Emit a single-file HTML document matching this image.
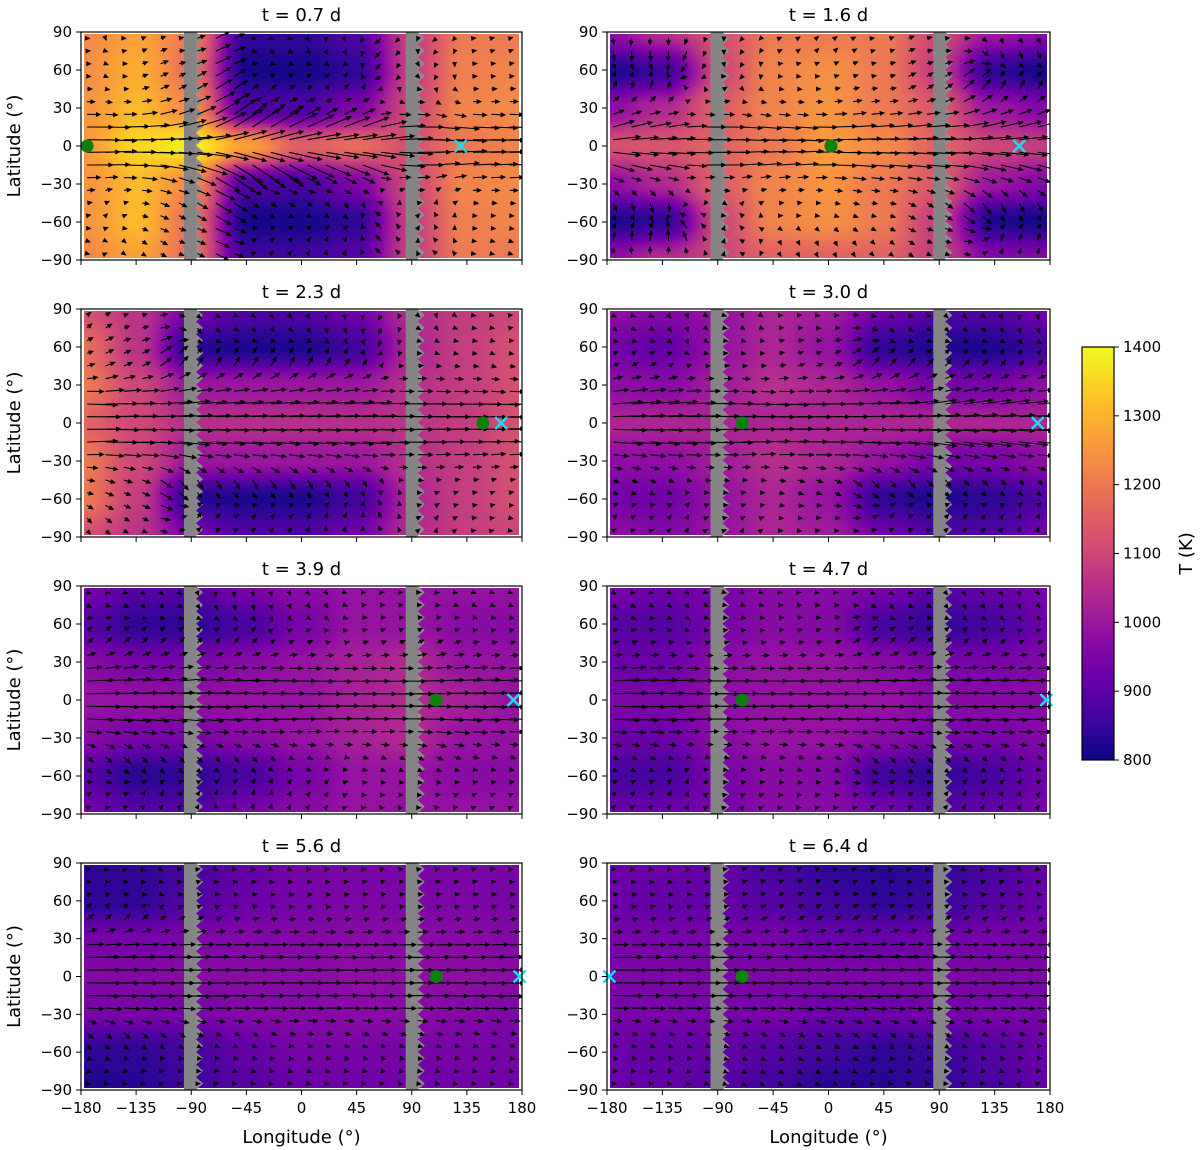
<!DOCTYPE html>
<html><head><meta charset="utf-8">
<style>
body{margin:0;background:#fff;width:1200px;height:1150px;overflow:hidden;font-family:"Liberation Sans","DejaVu Sans",sans-serif;}
#wrap{position:relative;width:1200px;height:1150px;}
canvas{position:absolute;}
svg{position:absolute;left:0;top:0;}
</style></head>
<body>
<div id="wrap">
<svg id="svg" width="1200" height="1150"></svg>
</div>
<script>
// ---- data ----
const titles = ["t = 0.7 d","t = 1.6 d","t = 2.3 d","t = 3.0 d","t = 3.9 d","t = 4.7 d","t = 5.6 d","t = 6.4 d"];
const gridLons = [-180,-135,-90,-45,0,45,90,135,180];
const gridLats = [90,60,30,0,-30,-60,-90];
const temp0 = [[1230,1270,1200,840,840,880,1080,1200,1200],[1240,1290,1180,810,810,840,1080,1210,1220],[1250,1310,1230,880,880,950,1100,1220,1230],[1260,1350,1390,1270,1150,1180,1120,1200,1220],[1250,1310,1230,880,870,950,1100,1220,1230],[1250,1310,1180,810,810,840,1080,1210,1220],[1230,1270,1180,860,860,890,1080,1200,1200]];
const temp1 = [[980,1040,1120,1200,1200,1200,1100,1000,960],[820,860,1100,1220,1240,1200,1080,840,810],[980,1040,1150,1220,1250,1200,1140,1000,960],[1120,1130,1160,1200,1260,1230,1160,1100,1080],[980,1040,1150,1220,1250,1200,1140,1000,960],[820,840,1100,1220,1240,1200,1080,820,810],[980,1040,1100,1160,1160,1160,1080,960,960]];
const temp2 = [[1120,1060,940,880,880,930,1040,1080,1100],[1180,1060,830,820,820,860,1030,1080,1120],[1200,1100,1000,1000,1000,1000,1050,1080,1120],[1160,1100,1050,1050,1050,1050,1060,1080,1120],[1200,1100,1000,1000,1000,1000,1050,1080,1120],[1200,1080,830,820,820,860,1030,1080,1120],[1120,1060,940,880,880,930,1040,1080,1100]];
const temp3 = [[980,960,990,1030,1010,930,880,880,930],[930,910,990,1030,990,840,820,820,860],[980,970,1010,1050,1030,990,940,940,980],[1030,1030,1030,1030,1030,1030,1030,1030,1030],[980,980,1010,1050,1030,990,940,940,980],[930,930,990,1030,990,840,820,840,880],[980,960,990,1030,1010,930,880,880,930]];
const temp4 = [[940,890,890,940,970,990,990,990,990],[890,840,840,870,940,990,990,970,970],[970,940,940,970,990,1020,1040,990,990],[990,990,990,990,990,1020,1040,1020,990],[970,940,940,970,990,1020,1040,990,990],[890,830,840,870,940,990,990,970,970],[940,890,890,940,970,990,990,990,990]];
const temp5 = [[940,920,940,970,970,940,890,910,940],[890,890,940,970,960,870,840,870,920],[920,920,970,990,990,970,940,940,960],[950,950,980,990,990,990,970,970,970],[920,920,970,990,990,970,940,940,960],[870,870,940,970,960,860,840,870,920],[920,920,940,970,970,940,890,910,940]];
const temp6 = [[840,840,870,910,940,940,940,940,940],[840,840,890,920,940,950,950,950,940],[940,940,950,960,960,970,970,970,960],[960,960,970,970,970,980,980,980,970],[940,940,940,960,960,970,970,960,950],[840,840,870,910,940,940,940,940,940],[820,830,860,890,920,930,930,930,930]];
const temp7 = [[920,920,910,870,840,830,840,870,910],[920,910,910,890,860,840,850,890,920],[940,940,940,940,920,920,930,940,940],[950,950,950,950,950,950,950,950,950],[940,940,940,940,920,920,930,940,940],[920,910,910,890,860,840,850,890,920],[920,910,890,860,830,830,840,870,910]];
const temps = [temp0,temp1,temp2,temp3,temp4,temp5,temp6,temp7];
const dotLon = [-175,2,148,-70,110,-70,110,-70];
const crossLon = [130,155,163,170,173,177,178,-178];
const arrowLats = [85,75,65,55,45,35,25,15,5,-5,-15,-25,-35,-45,-55,-65,-75,-85];
const jetU = [0.1,0.15,0.2,0.2,0.3,0.5,0.9,1.8,2.3,2.3,1.8,0.9,0.5,0.3,0.2,0.2,0.15,0.1];
const jetScale = [1.0,0.8,1.1,1.1,1.0,1.0,1.2,1.1];
const xTicks = [-180,-135,-90,-45,0,45,90,135,180];
const yTicks = [90,60,30,0,-30,-60,-90];
const cbTicks = [1400,1300,1200,1100,1000,900,800];

// ---- layout ----
const colX = [[81,522],[607,1050]];
const rowY = [[32,260],[309,537],[586,814],[863,1090]];
const TMIN=800,TMAX=1400;
const plasma=[[13,8,135],[65,4,157],[106,0,168],[143,13,164],[177,42,144],[204,71,120],[225,100,98],[242,132,75],[252,166,54],[252,206,37],[240,249,33]];
function cmap(t){t=Math.max(0,Math.min(1,t))*10;const i=Math.min(9,Math.floor(t)),f=t-i;const a=plasma[i],b=plasma[i+1];return [a[0]+(b[0]-a[0])*f,a[1]+(b[1]-a[1])*f,a[2]+(b[2]-a[2])*f];}
const NS="http://www.w3.org/2000/svg";
const svg=document.getElementById('svg');
const wrap=document.getElementById('wrap');
const defs=document.createElementNS(NS,'defs');svg.appendChild(defs);
function mk(tag,attrs,parent){const e=document.createElementNS(NS,tag);for(const k in attrs)e.setAttribute(k,attrs[k]);(parent||svg).appendChild(e);return e;}
function txt(x,y,s,size,anchor,parent,extra){const t=mk('text',Object.assign({x:x,y:y,'font-size':size,'text-anchor':anchor||'middle',fill:'#000','font-family':'DejaVu Sans, Liberation Sans, sans-serif'},extra||{}),parent);t.textContent=s;return t;}
function sample(g,lon,lat){
  let fx=(lon+180)/45, fy=(90-lat)/30;
  fx=Math.max(0,Math.min(8,fx));fy=Math.max(0,Math.min(6,fy));
  let i=Math.min(7,Math.floor(fx)), j=Math.min(5,Math.floor(fy));
  let u=fx-i, v=fy-j; u=u*u*(3-2*u); v=v*v*(3-2*v);
  return g[j][i]*(1-u)*(1-v)+g[j][i+1]*u*(1-v)+g[j+1][i]*(1-u)*v+g[j+1][i+1]*u*v;
}
for(let p=0;p<8;p++){
  const c=p%2,r=Math.floor(p/2);
  const [x0,x1]=colX[c],[y0,y1]=rowY[r];
  const W=x1-x0,H=y1-y0;
  const X=lon=>x0+(lon+180)/360*W, Y=lat=>y0+(90-lat)/180*H;
  const cp=mk('clipPath',{id:'clip'+p},defs);mk('rect',{x:x0,y:y0,width:W,height:H},cp);
  const g=mk('g',{},svg);
  
  
  const cv=document.createElement('canvas');
  cv.width=W-6;cv.height=H-4;cv.style.left=(x0+3)+'px';cv.style.top=(y0+2)+'px';
  
  
  wrap.insertBefore(cv,svg);
  const ctx=cv.getContext('2d');const im=ctx.createImageData(cv.width,cv.height);
  for(let yy=0;yy<cv.height;yy++)for(let xx=0;xx<cv.width;xx++){
    const lon=-180+(xx+0.5)/cv.width*360, lat=90-(yy+0.5)/cv.height*180;
    const col=cmap((sample(temps[p],lon,lat)-TMIN)/(TMAX-TMIN));
    const k=(yy*cv.width+xx)*4;im.data[k]=col[0];im.data[k+1]=col[1];im.data[k+2]=col[2];im.data[k+3]=255;
  }
  ctx.putImageData(im,0,0);
  const inner=mk('g',{'clip-path':`url(#clip${p})`},g);
  [-91,90].forEach(bl=>{
    const bx=X(bl)-6;
    const band=mk('rect',{x:bx,y:y0,width:12,height:H,fill:'#858585'},inner);
    
    
    for(let ty=y0;ty<y1-4;ty+=12.6){mk('polygon',{points:`${bx+12},${ty} ${bx+19},${ty+6.3} ${bx+12},${ty+12.6}`,fill:'#8c8c8c'},inner);}
  });
  const ag=mk('g',{stroke:'#000','stroke-width':1.1,fill:'#000'},inner);
  
  
  for(let li=0;li<arrowLats.length;li++){
    for(let lon=-175;lon<180;lon+=15){
      const lat=arrowLats[li];
      const tE=sample(temps[p],lon+10,lat)-sample(temps[p],lon-10,lat);
      const tN=sample(temps[p],lon,lat+10)-sample(temps[p],lon,lat-10);
      let u=jetU[li]*jetScale[p]*14 - tE*0.05;
      let v=-tN*0.05 + (lat>0?-1:1)*tE*0.03;
      const len=Math.hypot(u,v); if(len>32){u*=32/len;v*=32/len;}
      const ax=X(lon),ay=Y(lat);
      const bx=ax+u,by=ay-v;
      mk('line',{x1:ax,y1:ay,x2:bx,y2:by},ag);
      const L=Math.hypot(u,v)||1,ux=u/L,uy=-v/L;
      mk('polygon',{points:`${bx+ux*2.5},${by+uy*2.5} ${bx-ux*3+uy*2.5},${by-uy*3-ux*2.5} ${bx-ux*3-uy*2.5},${by-uy*3+ux*2.5}`,stroke:'none'},ag);
    }
  }
  const dot=mk('circle',{cx:X(dotLon[p]),cy:Y(0),r:6.5,fill:'#0b800b'},g);
  
  
  const cx=X(crossLon[p]),cy=Y(0);
  const cr=mk('path',{d:`M${cx-6},${cy-6}L${cx+6},${cy+6}M${cx-6},${cy+6}L${cx+6},${cy-6}`,stroke:'#22d8ee','stroke-width':2.5},g);
  
  
  mk('rect',{x:x0,y:y0,width:W,height:H,fill:'none',stroke:'#000','stroke-width':1.2},g);
  xTicks.forEach(t=>{mk('line',{x1:X(t),x2:X(t),y1:y1,y2:y1+5,stroke:'#000','stroke-width':1},g);
    if(r===3){const l=txt(X(t),y1+23,String(t).replace('-','\u2212'),15,'middle',g);}});
  yTicks.forEach(t=>{mk('line',{x1:x0-5,x2:x0,y1:Y(t),y2:Y(t),stroke:'#000','stroke-width':1},g);
    const l=txt(x0-9,Y(t)+5,String(t).replace('-','\u2212'),15,'end',g);});
  const tt=txt((x0+x1)/2,y0-11,titles[p],18,'middle',g);
  
  
  if(c===0){const yl=txt(0,0,'Latitude  (°)',18,'middle',g,{transform:`translate(20,${(y0+y1)/2}) rotate(-90)`});
    }
  if(r===3){const xl=txt((x0+x1)/2,1143,'Longitude  (°)',18,'middle',g);
    }
}
const cbX=1082,cbY0=347,cbY1=760;
const cbc=document.createElement('canvas');cbc.width=32;cbc.height=cbY1-cbY0;cbc.style.left=cbX+'px';cbc.style.top=cbY0+'px';


wrap.insertBefore(cbc,svg);
const cctx=cbc.getContext('2d');
for(let yy=0;yy<cbc.height;yy++){const col=cmap(1-yy/cbc.height);cctx.fillStyle=`rgb(${col[0]|0},${col[1]|0},${col[2]|0})`;cctx.fillRect(0,yy,32,1);}
mk('rect',{x:cbX,y:cbY0,width:32,height:cbY1-cbY0,fill:'none',stroke:'#000','stroke-width':1.2});
cbTicks.forEach(t=>{const y=cbY1-(t-TMIN)/(TMAX-TMIN)*(cbY1-cbY0);mk('line',{x1:cbX+32,x2:cbX+37,y1:y,y2:y,stroke:'#000'});
  const l=txt(cbX+41,y+5,String(t),15,'start');});
const cl=txt(0,0,'T (K)',18,'middle',svg,{transform:`translate(1192,${(cbY0+cbY1)/2}) rotate(-90)`});


</script>
</body></html>
